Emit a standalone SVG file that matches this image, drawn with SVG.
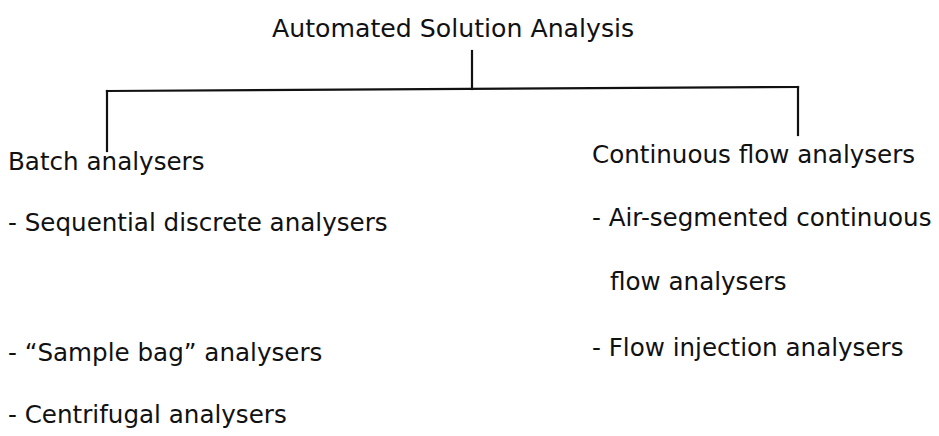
<svg xmlns="http://www.w3.org/2000/svg" width="939" height="436" viewBox="0 0 939 436">
<style>
text{font-family:"DejaVu Sans","Liberation Sans",sans-serif;font-size:24.6px;fill:#111}
.t{font-size:25.2px}
.c{stroke:#111;stroke-width:2.2;fill:none;stroke-linecap:square}
</style>
<rect width="939" height="436" fill="#fff"/>
<g id="connectors">
<line class="c" x1="472" y1="51" x2="472" y2="89"/>
<line class="c" x1="107" y1="91" x2="798" y2="87"/>
<line class="c" x1="107" y1="91" x2="107" y2="151"/>
<line class="c" x1="798" y1="87" x2="798" y2="135"/>
</g>
<g id="root"><text class="t" x="272" y="37">Automated Solution Analysis</text></g>
<g id="batch">
<text x="8" y="170">Batch analysers</text>
<text x="8" y="231">- Sequential discrete analysers</text>
<text x="8" y="361">- “Sample bag” analysers</text>
<text x="8" y="423">- Centrifugal analysers</text>
</g>
<g id="continuous">
<text x="592" y="163">Continuous flow analysers</text>
<text x="592" y="226">- Air-segmented continuous</text>
<text x="610" y="290">flow analysers</text>
<text x="592" y="356">- Flow injection analysers</text>
</g>
</svg>
